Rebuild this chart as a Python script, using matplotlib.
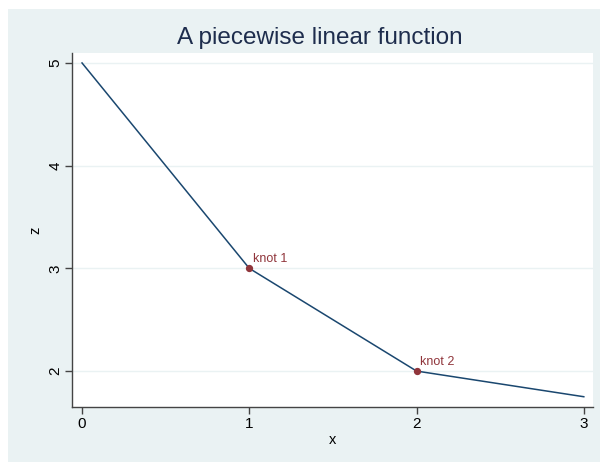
import matplotlib.pyplot as plt
from matplotlib.patches import Rectangle

plt.rcParams['font.family'] = ['Liberation Sans', 'DejaVu Sans']

# piecewise linear z(x) with knots at x=1 and x=2
x = [0, 1, 2, 3]
z = [5, 3, 2, 1.75]
knot_x = [1, 2]
knot_z = [3, 2]
knot_labels = ['knot 1', 'knot 2']

navy = '#1A476F'
maroon = '#90353B'
bg = '#EAF2F3'

fig = plt.figure(figsize=(6, 4.62), dpi=100)
fig.patches.append(Rectangle((8 / 600, 0), 1, 1 - 9 / 462, transform=fig.transFigure,
                             facecolor=bg, edgecolor='none', zorder=-1))

ax = fig.add_axes([72 / 600, 1 - 407 / 462, (593 - 72) / 600, (407 - 53) / 462])
ax.set_facecolor('white')

ax.plot(x, z, color=navy, lw=1.1, zorder=3)
ax.scatter(knot_x, knot_z, s=18, color=maroon, zorder=4)
for kx, kz, lab in zip(knot_x, knot_z, knot_labels):
    ax.annotate(lab, (kx, kz), xytext=(2.5, 2.5), textcoords='offset points',
                color=maroon, fontsize=9, ha='left', va='bottom')

ax.set_xlim(-0.06, 3.055)
ax.set_ylim(1.65, 5.097)
ax.set_xticks([0, 1, 2, 3])
ax.set_yticks([2, 3, 4, 5])
ax.grid(axis='y', color=bg, lw=1)
ax.set_axisbelow(True)

for s in ['top', 'right']:
    ax.spines[s].set_visible(False)
for s in ['left', 'bottom']:
    ax.spines[s].set_color('#444444')
    ax.spines[s].set_linewidth(1)

ax.tick_params(direction='out', length=5, width=1, color='#444444',
               labelsize=11, labelcolor='black', pad=2)
for lab in ax.get_yticklabels():
    lab.set_rotation(90)
    lab.set_va('center')

ax.set_xlabel('x', fontsize=10.5, labelpad=2)
ax.set_ylabel('z', fontsize=10.5, labelpad=4)

fig.text(320 / 600, 1 - 38 / 462, 'A piecewise linear function', ha='center', va='center',
         fontsize=17.5, color='#1E2D4D')

fig.savefig('out.png', dpi=100)
